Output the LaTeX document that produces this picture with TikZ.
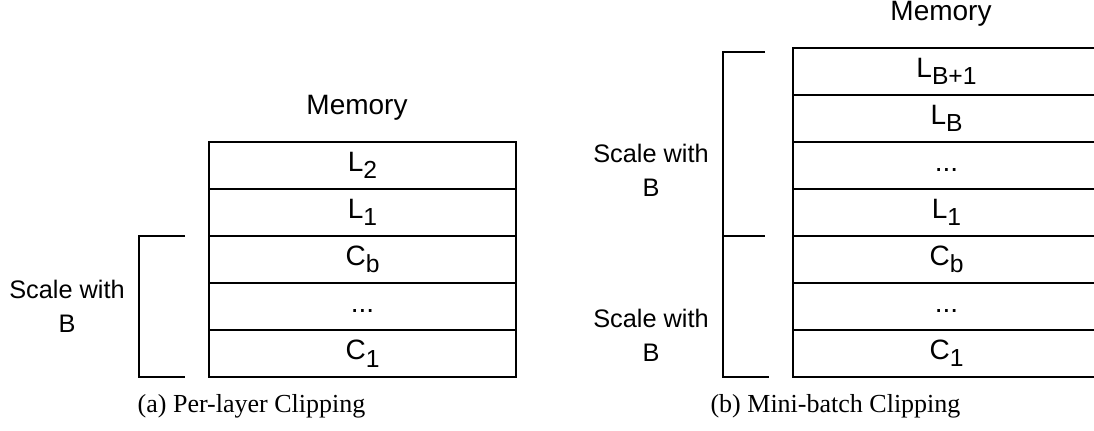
\documentclass[tikz,border=0pt]{standalone}
\usepackage{fontspec}
\setmainfont{Liberation Serif}
\newfontfamily\labelfont{Liberation Sans}
% lowered, slightly smaller index text for the cell labels
\newcommand\cellsub[1]{\raisebox{-5.6pt}{\fontsize{18.5}{20}\selectfont #1}}
% dots set on the same baseline as the indexed labels
\newcommand\celldots{...\vphantom{L\cellsub{1}}}
\begin{document}
\begin{tikzpicture}[x=0.75pt,y=-0.75pt,line width=1.5pt,
  cell/.style={draw,line width=1.5pt,minimum width=229.9pt,minimum height=35.3pt,
    inner sep=0pt,font=\labelfont\fontsize{21}{25}\selectfont},
  note/.style={align=center,inner sep=0pt,font=\labelfont\fontsize{19}{25.5}\selectfont},
  heading/.style={anchor=base,inner sep=0pt,font=\labelfont\fontsize{21}{25}\selectfont},
  caption/.style={anchor=base,inner sep=0pt,font=\fontsize{19.5}{22}\selectfont},
  bracket/.style={line width=1.5pt}]
\useasboundingbox (0,0) rectangle (1094,431);
\clip (0,0) rectangle (1094,431);

% ---- (a) per-layer clipping ----
\node[heading] (memA) at (357,115) {Memory};
\node[cell] (a1) at (362.5,165.2) {L\cellsub{2}};
\node[cell] (a2) at (362.5,212.3) {L\cellsub{1}};
\node[cell] (a3) at (362.5,259.4) {C\cellsub{b}};
\node[cell] (a4) at (362.5,306.4) {\celldots};
\node[cell] (a5) at (362.5,353.5) {C\cellsub{1}};

\coordinate (ba1) at (185,236);
\coordinate (ba2) at (139,236);
\coordinate (ba3) at (139,377);
\coordinate (ba4) at (185,377);
\draw[bracket] (ba1) -- (ba2) -- (ba3) -- (ba4);
\node[note] (scaleA) at (67,306) {Scale with\\B};

\node[caption] (capA) at (251.5,412) {(a) Per-layer Clipping};

% ---- (b) mini-batch clipping ----
\node[heading] (memB) at (941,21) {Memory};
\node[cell] (b1) at (946.5,71.2) {L\cellsub{B+1}};
\node[cell] (b2) at (946.5,118.2) {L\cellsub{B}};
\node[cell] (b3) at (946.5,165.2) {\celldots};
\node[cell] (b4) at (946.5,212.2) {L\cellsub{1}};
\node[cell] (b5) at (946.5,259.2) {C\cellsub{b}};
\node[cell] (b6) at (946.5,306.2) {\celldots};
\node[cell] (b7) at (946.5,353.2) {C\cellsub{1}};

\coordinate (bb1) at (765,52.3);
\coordinate (bb2) at (722.7,52.3);
\coordinate (bb3) at (722.7,377);
\coordinate (bb4) at (769,377);
\coordinate (bm1) at (722.7,236);
\coordinate (bm2) at (765,236);
\draw[bracket] (bb1) -- (bb2) -- (bb3) -- (bb4);
\draw[bracket] (bm1) -- (bm2);
\node[note] (scaleB1) at (651,170) {Scale with\\B};
\node[note] (scaleB2) at (651,335) {Scale with\\B};

\node[caption] (capB) at (835.5,412) {(b) Mini-batch Clipping};
\end{tikzpicture}
\end{document}
